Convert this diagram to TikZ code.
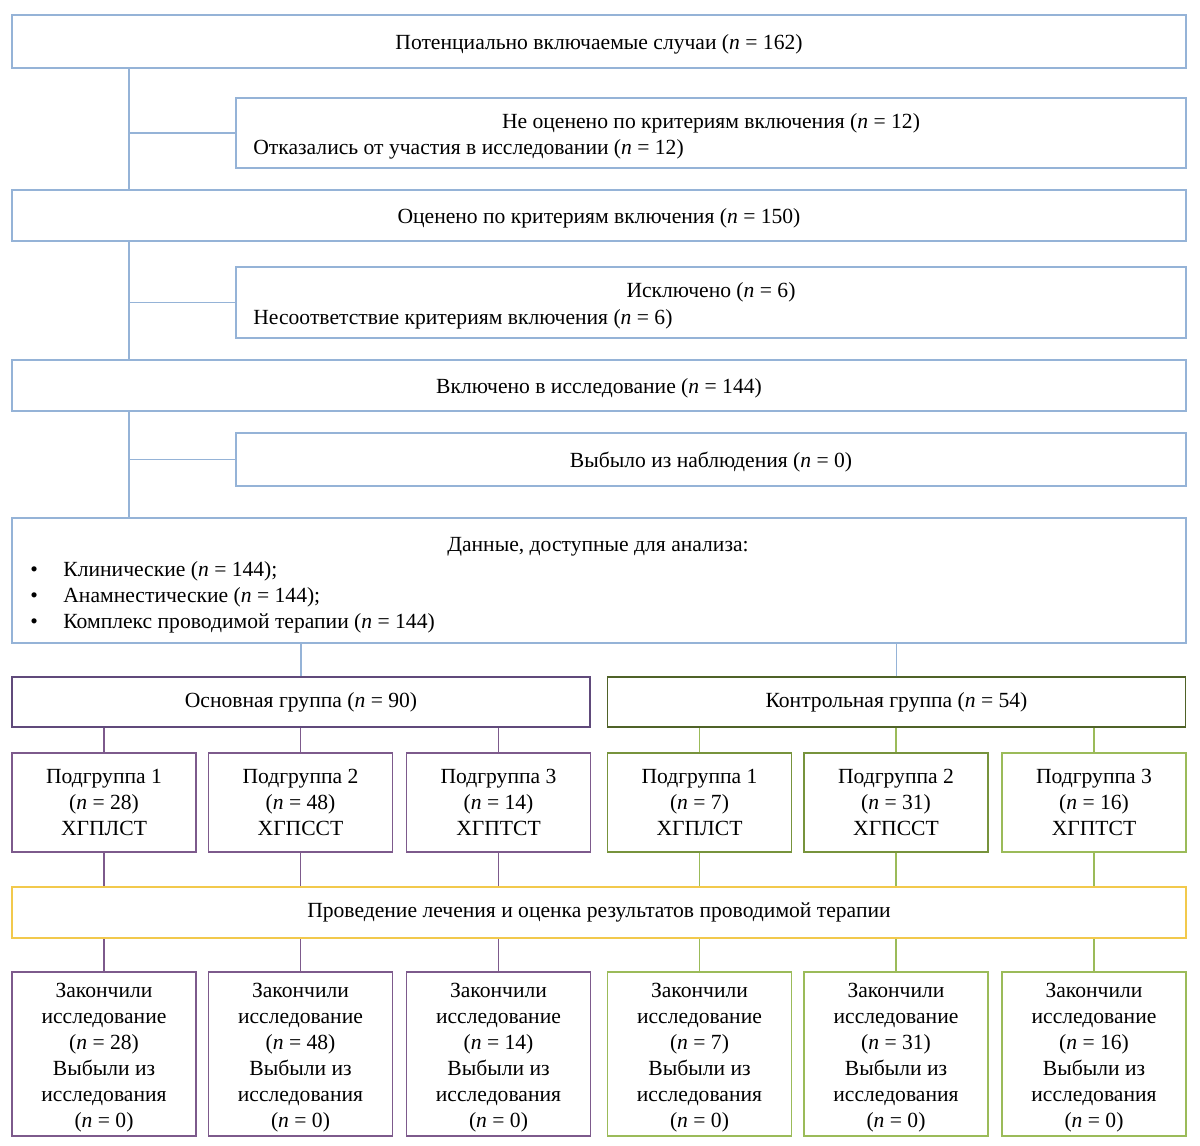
\documentclass[tikz,border=0pt]{standalone}
\usepackage{fontspec}
\setmainfont{Liberation Serif}
\definecolor{cblue}{HTML}{95B3D7}
\definecolor{cpurg}{HTML}{604A7B}
\definecolor{cpur}{HTML}{7D5A8C}
\definecolor{cgreeng}{HTML}{4F6228}
\definecolor{cgreen}{HTML}{77933C}
\definecolor{cgreenl}{HTML}{9BBB59}
\definecolor{cyel}{HTML}{F2C94C}
\begin{document}
\begin{tikzpicture}[x=0.5pt,y=-0.5pt,
  box/.style={draw,line width=0.75pt,inner sep=0pt,align=center,font=\fontsize{10.8}{13}\selectfont},
  wide/.style={box,minimum width=587pt},
  side/.style={box,minimum width=475pt},
  grp/.style={box,minimum width=289pt,minimum height=25pt},
  sub/.style={box,minimum width=92pt,minimum height=49.5pt},
  fin/.style={box,minimum width=92pt,minimum height=82pt},
  txt/.style={inner sep=0pt,anchor=base,font=\fontsize{10.8}{13}\selectfont},
  txtl/.style={txt,anchor=base west},
  fint/.style={inner sep=0pt,align=center,font=\fontsize{10.8}{13}\selectfont},
  conn/.style={line width=0.75pt}]
\useasboundingbox (0,0) rectangle (1200,1146);
\newcommand{\nn}{\textit{n}}
% top blue column
\node[wide,draw=cblue,minimum height=26.5pt] (b1) at (599,41.5) {};
\node[txt] (t1) at (599,49) {Потенциально включаемые случаи (\nn{} = 162)};
\node[side,draw=cblue,minimum height=35pt] (b2) at (711,133) {};
\node[txt] (t2a) at (711,128) {Не оценено по критериям включения (\nn{} = 12)};
\node[txtl] (t2b) at (253,154) {Отказались от участия в исследовании (\nn{} = 12)};
\node[wide,draw=cblue,minimum height=25.5pt] (b3) at (599,215.5) {};
\node[txt] (t3) at (599,223) {Оценено по критериям включения (\nn{} = 150)};
\node[side,draw=cblue,minimum height=35.5pt] (b4) at (711,302.5) {};
\node[txt] (t4a) at (711,297) {Исключено (\nn{} = 6)};
\node[txtl] (t4b) at (253,324) {Несоответствие критериям включения (\nn{} = 6)};
\node[wide,draw=cblue,minimum height=25.5pt] (b5) at (599,385.5) {};
\node[txt] (t5) at (599,393) {Включено в исследование (\nn{} = 144)};
\node[side,draw=cblue,minimum height=26.5pt] (b6) at (711,459.5) {};
\node[txt] (t6) at (711,467) {Выбыло из наблюдения (\nn{} = 0)};
\node[wide,draw=cblue,minimum height=62.5pt] (b7) at (599,580.5) {};
\node[txt] (t7) at (598,551) {Данные, доступные для анализа:};
\node[txtl] (p1) at (30,576) {•};
\node[txtl] (l1) at (63,576) {Клинические (\nn{} = 144);};
\node[txtl] (p2) at (30,602) {•};
\node[txtl] (l2) at (63,602) {Анамнестические (\nn{} = 144);};
\node[txtl] (p3) at (30,628) {•};
\node[txtl] (l3) at (63,628) {Комплекс проводимой терапии (\nn{} = 144)};
\coordinate (tr) at (129,0);
\draw[conn,cblue] (b1.south -| tr) -- (b3.north -| tr);
\draw[conn,cblue] (b3.south -| tr) -- (b5.north -| tr);
\draw[conn,cblue] (b5.south -| tr) -- (b7.north -| tr);
\draw[conn,cblue] (b2.west) -- (b2.west -| tr);
\draw[conn,cblue] (b4.west) -- (b4.west -| tr);
\draw[conn,cblue] (b6.west) -- (b6.west -| tr);
% groups
\node[grp,draw=cpurg] (g1) at (301,702) {Основная группа (\nn{} = 90)};
\node[grp,draw=cgreeng] (g2) at (896.5,702) {Контрольная группа (\nn{} = 54)};
\draw[conn,cblue] (g1.north) -- (g1.north |- b7.south);
\draw[conn,cblue] (g2.north) -- (g2.north |- b7.south);
% subgroups
\node[sub,draw=cpur] (s1) at (104,802.5) {Подгруппа 1\\(\nn{} = 28)\\ХГПЛСТ};
\node[sub,draw=cpur] (s2) at (300.5,802.5) {Подгруппа 2\\(\nn{} = 48)\\ХГПССТ};
\node[sub,draw=cpur] (s3) at (498.5,802.5) {Подгруппа 3\\(\nn{} = 14)\\ХГПТСТ};
\node[sub,draw=cgreen] (s4) at (699.5,802.5) {Подгруппа 1\\(\nn{} = 7)\\ХГПЛСТ};
\node[sub,draw=cgreen] (s5) at (896,802.5) {Подгруппа 2\\(\nn{} = 31)\\ХГПССТ};
\node[sub,draw=cgreenl] (s6) at (1094,802.5) {Подгруппа 3\\(\nn{} = 16)\\ХГПТСТ};
\foreach \s in {s1,s2,s3}{\draw[conn,cpur] (\s.north) -- (\s.north |- g1.south);}
\foreach \s in {s4,s5,s6}{\draw[conn,cgreenl] (\s.north) -- (\s.north |- g2.south);}
% treatment
\node[wide,draw=cyel,minimum height=25.5pt] (y) at (599,912.5) {Проведение лечения и оценка результатов проводимой терапии};
\foreach \s in {s1,s2,s3}{\draw[conn,cpur] (\s.south) -- (\s.south |- y.north);}
\foreach \s in {s4,s5,s6}{\draw[conn,cgreenl] (\s.south) -- (\s.south |- y.north);}
% final
\node[fin,draw=cpur] (e1) at (104,1054) {};
\node[fin,draw=cpur] (e2) at (300.5,1054) {};
\node[fin,draw=cpur] (e3) at (498.5,1054) {};
\node[fin,draw=cgreenl] (e4) at (699.5,1054) {};
\node[fin,draw=cgreenl] (e5) at (896,1054) {};
\node[fin,draw=cgreenl] (e6) at (1094,1054) {};
\node[fint] (f1) at (104,1058) {Закончили\\исследование\\(\nn{} = 28)\\Выбыли из\\исследования\\(\nn{} = 0)};
\node[fint] (f2) at (300.5,1058) {Закончили\\исследование\\(\nn{} = 48)\\Выбыли из\\исследования\\(\nn{} = 0)};
\node[fint] (f3) at (498.5,1058) {Закончили\\исследование\\(\nn{} = 14)\\Выбыли из\\исследования\\(\nn{} = 0)};
\node[fint] (f4) at (699.5,1058) {Закончили\\исследование\\(\nn{} = 7)\\Выбыли из\\исследования\\(\nn{} = 0)};
\node[fint] (f5) at (896,1058) {Закончили\\исследование\\(\nn{} = 31)\\Выбыли из\\исследования\\(\nn{} = 0)};
\node[fint] (f6) at (1094,1058) {Закончили\\исследование\\(\nn{} = 16)\\Выбыли из\\исследования\\(\nn{} = 0)};
\foreach \s in {e1,e2,e3}{\draw[conn,cpur] (\s.north) -- (\s.north |- y.south);}
\foreach \s in {e4,e5,e6}{\draw[conn,cgreenl] (\s.north) -- (\s.north |- y.south);}
\end{tikzpicture}
\end{document}
